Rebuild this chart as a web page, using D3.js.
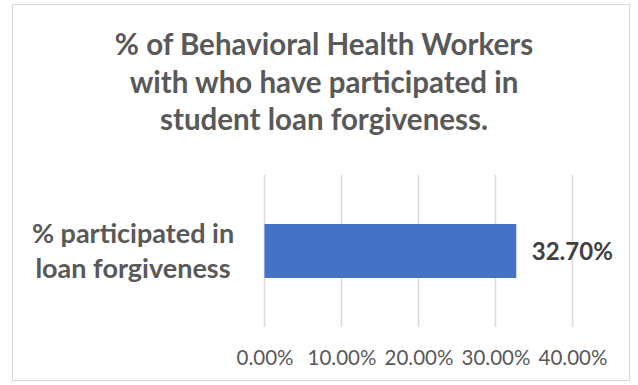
<!DOCTYPE html>
<html>
<head>
<meta charset="utf-8">
<script src="https://cdn.jsdelivr.net/npm/d3@7"></script>
<style>
  html, body { margin: 0; padding: 0; background: #fff; }
  svg { display: block; }
  text { font-family: Lato, "Open Sans", sans-serif; }
</style>
</head>
<body>
<svg id="chart" width="638" height="385"></svg>
<script>
// Chart content
const titleLines = [
  "% of Behavioral Health Workers",
  "with who have participated in",
  "student loan forgiveness."
];
const categories = ["% participated in loan forgiveness"];
const categoryLines = [["% participated in", "loan forgiveness"]];
const values = [0.327];
const valueLabels = ["32.70%"];
const tickValues = [0, 0.1, 0.2, 0.3, 0.4];
const tickLabels = ["0.00%", "10.00%", "20.00%", "30.00%", "40.00%"];

const svg = d3.select("#chart");

// outer frame
svg.append("rect")
  .attr("x", 12.5).attr("y", 4.5)
  .attr("width", 617).attr("height", 376)
  .attr("fill", "#fff").attr("stroke", "#D9D9D9").attr("stroke-width", 1);

// title
const title = svg.append("text")
  .attr("text-anchor", "middle")
  .attr("fill", "#595959")
  .attr("font-weight", "bold")
  .attr("font-size", 29.5);
titleLines.forEach((t, i) => {
  title.append("tspan").attr("x", 324).attr("y", 55 + i * 37.5).text(t);
});

// plot area
const plot = { left: 264, right: 572, top: 175, bottom: 327 };
const x = d3.scaleLinear().domain([0, 0.4]).range([plot.left, plot.right]);
const y = d3.scaleBand().domain(categories).range([plot.top, plot.bottom])
  .paddingInner(0).paddingOuter(0.907);

// gridlines
svg.append("g").selectAll("line").data(tickValues).join("line")
  .attr("x1", d => x(d) + 0.5).attr("x2", d => x(d) + 0.5)
  .attr("y1", plot.top).attr("y2", plot.bottom)
  .attr("stroke", "#D9D9D9").attr("stroke-width", 1.5);

// bars
svg.append("g").selectAll("rect").data(values).join("rect")
  .attr("x", x(0) + 0.5)
  .attr("y", (d, i) => y(categories[i]))
  .attr("width", d => x(d) - x(0))
  .attr("height", y.bandwidth())
  .attr("fill", "#4472C4");

// value labels
svg.append("g").selectAll("text").data(values).join("text")
  .attr("x", d => x(d) + 16)
  .attr("y", (d, i) => y(categories[i]) + y.bandwidth() / 2 + 9)
  .attr("fill", "#404040")
  .attr("font-weight", "bold")
  .attr("font-size", 24)
  .text((d, i) => valueLabels[i]);

// category labels
categories.forEach((c, i) => {
  const cy = y(c) + y.bandwidth() / 2;
  const t = svg.append("text")
    .attr("text-anchor", "middle")
    .attr("fill", "#595959")
    .attr("font-weight", "bold")
    .attr("font-size", 27);
  categoryLines[i].forEach((line, j) => {
    t.append("tspan").attr("x", 133).attr("y", cy - 8 + j * 35).text(line);
  });
});

// x axis tick labels
const axis = d3.axisBottom(x).tickValues(tickValues)
  .tickFormat((d, i) => tickLabels[i]).tickSize(0).tickPadding(0);
const axisG = svg.append("g").attr("transform", `translate(0.5, 0)`).call(axis);
axisG.select(".domain").remove();
axisG.selectAll("text")
  .attr("y", 365).attr("dy", null)
  .attr("fill", "#595959")
  .attr("font-size", 20.5)
  .attr("font-family", "Lato, 'Open Sans', sans-serif");
</script>
</body>
</html>
